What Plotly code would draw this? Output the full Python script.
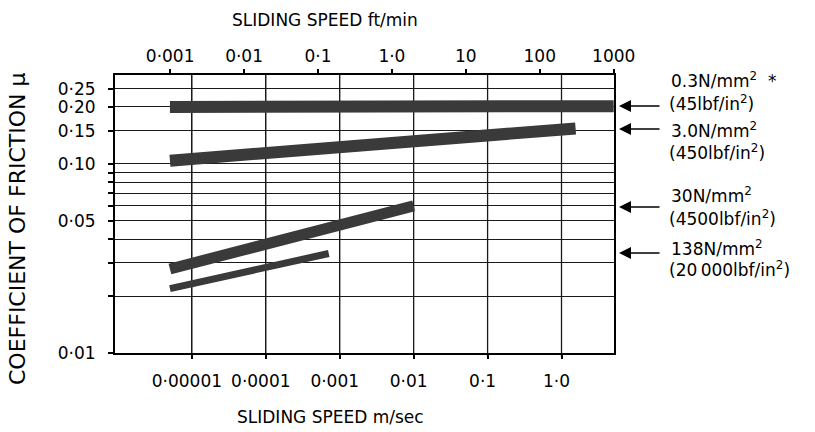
import math
import plotly.graph_objects as go

# ---------------- data ----------------
FTMIN_PER_MS = 196.85  # 1 m/s = 196.85 ft/min

band_names = ["0.3 N/mm2", "3.0 N/mm2", "30 N/mm2", "138 N/mm2"]
band_speed_start = [5.05e-6, 5.05e-6, 5.05e-6, 5.05e-6]   # m/s
band_speed_end = [5.08, 1.55, 0.0100, 0.00071]            # m/s
band_mu_start = [0.200, 0.104, 0.0278, 0.0219]
band_mu_end = [0.202, 0.154, 0.0600, 0.0336]

label_line1 = ["0.3N/mm<sup>2</sup>  *", "3.0N/mm<sup>2</sup>",
               "30N/mm<sup>2</sup>", "138N/mm<sup>2</sup>"]
label_line2 = ["(45lbf/in<sup>2</sup>)", "(450lbf/in<sup>2</sup>)",
               "(4500lbf/in<sup>2</sup>)", "(20\u2009000lbf/in<sup>2</sup>)"]
arrow_mu = [0.2025, 0.153, 0.0592, 0.0338]

x_tick_vals = [1e-5, 1e-4, 1e-3, 1e-2, 1e-1, 1.0]
x_tick_text = ["0·00001", "0·0001", "0·001", "0·01", "0·1", "1·0"]
top_tick_vals = [0.001, 0.01, 0.1, 1, 10, 100, 1000]
top_tick_text = ["0·001", "0·01", "0·1", "1·0", "10", "100", "1000"]
y_tick_vals = [0.01, 0.02, 0.03, 0.04, 0.05, 0.06, 0.07, 0.08, 0.09,
               0.10, 0.15, 0.20, 0.25]
y_tick_text = ["0·01", "", "", "", "0·05", "", "", "", "", "0·10",
               "0·15", "0·20", "0·25"]

# ---------------- styles ----------------
band_width = [12, 12, 11, 7]
band_color = "#3a3a3a"
grid_color = "#1a1a1a"
FONT = "DejaVu Sans"
TICK_SIZE = 17
x_range = [-6.04, 0.71]
y_range = [-2.0, -0.53]
shift = math.log10(FTMIN_PER_MS)
PLOT_H = 278

fig = go.Figure()
for i in range(len(band_names)):
    fig.add_trace(go.Scatter(
        x=[band_speed_start[i], band_speed_end[i]],
        y=[band_mu_start[i], band_mu_end[i]],
        mode="lines", line=dict(color=band_color, width=band_width[i]),
        name=band_names[i], showlegend=False, hoverinfo="skip"))

# invisible trace to bind the top (ft/min) axis
fig.add_trace(go.Scatter(x=top_tick_vals, y=[0.02] * len(top_tick_vals),
                         xaxis="x2", yaxis="y", mode="markers",
                         marker=dict(opacity=0), showlegend=False,
                         hoverinfo="skip"))

axis_common = dict(color="black", linecolor="black", linewidth=2,
                   showline=True, ticks="outside", tickcolor="black",
                   tickwidth=1.5,
                   tickfont=dict(family=FONT, size=TICK_SIZE, color="black"))

fig.update_layout(
    width=815, height=432,
    margin=dict(l=115, r=201, t=75, b=79),
    paper_bgcolor="white", plot_bgcolor="white",
    font=dict(family=FONT, color="black"),
    hovermode=False,
    xaxis=dict(type="log", range=x_range, tickmode="array",
               tickvals=x_tick_vals, ticktext=x_tick_text,
               showgrid=True, gridcolor=grid_color, gridwidth=1.3,
               ticklen=4, ticklabelstandoff=8, ticklabelshift=-5,
               zeroline=False, **axis_common),
    xaxis2=dict(type="log", overlaying="x", side="top", anchor="y",
                range=[x_range[0] + shift, x_range[1] + shift],
                tickmode="array", tickvals=top_tick_vals,
                ticktext=top_tick_text, showgrid=False, ticklen=4,
                ticklabelstandoff=0, **axis_common),
    yaxis=dict(type="log", range=y_range, tickmode="array",
               tickvals=y_tick_vals, ticktext=y_tick_text,
               showgrid=True, gridcolor=grid_color, gridwidth=1.3,
               ticklen=5, mirror=True, ticklabelstandoff=9,
               zeroline=False, **axis_common),
)

# vertical grid lines at the m/s decades (extend slightly below the axis)
shapes = []
for v in x_tick_vals:
    shapes.append(dict(type="line", xref="x", yref="paper", x0=v, x1=v,
                       y0=-4 / PLOT_H, y1=1, layer="below",
                       line=dict(color=grid_color, width=1.3)))
fig.update_layout(shapes=shapes)

ann = []
ann.append(dict(text="SLIDING SPEED ft/min", xref="paper", yref="paper",
                x=(325 - 115) / 499, y=(353 - 20) / PLOT_H, showarrow=False,
                xanchor="center", yanchor="middle",
                font=dict(family=FONT, size=17, color="black")))
ann.append(dict(text="SLIDING SPEED m/sec", xref="paper", yref="paper",
                x=(330 - 115) / 499, y=(353 - 417) / PLOT_H, showarrow=False,
                xanchor="center", yanchor="middle",
                font=dict(family=FONT, size=17, color="black")))
ann.append(dict(text="COEFFICIENT OF FRICTION μ", xref="paper", yref="paper",
                x=(17 - 115) / 499, y=(353 - 229) / PLOT_H, showarrow=False,
                xanchor="center", yanchor="middle", textangle=-90,
                font=dict(family=FONT, size=22, color="black")))

line1_px = [80, 130, 195, 248]
line2_px = [103, 152, 218, 269]
for i in range(len(band_names)):
    ann.append(dict(text="", xref="paper", yref="y",
                    x=(619 - 115) / 499, y=math.log10(arrow_mu[i]),
                    showarrow=True, arrowhead=2, arrowsize=1.6,
                    arrowwidth=1.5, arrowcolor="black", ax=42, ay=0))
    ann.append(dict(text=label_line1[i], xref="paper", yref="paper",
                    x=(669 - 115) / 499, y=(353 - line1_px[i]) / PLOT_H,
                    xanchor="left", yanchor="middle", showarrow=False,
                    font=dict(family=FONT, size=17, color="black")))
    ann.append(dict(text=label_line2[i], xref="paper", yref="paper",
                    x=(667 - 115) / 499, y=(353 - line2_px[i]) / PLOT_H,
                    xanchor="left", yanchor="middle", showarrow=False,
                    font=dict(family=FONT, size=17, color="black")))
fig.update_layout(annotations=ann)

fig.write_html("out.html",
               config={"displayModeBar": False},
               post_script="document.body.style.margin='0';")
